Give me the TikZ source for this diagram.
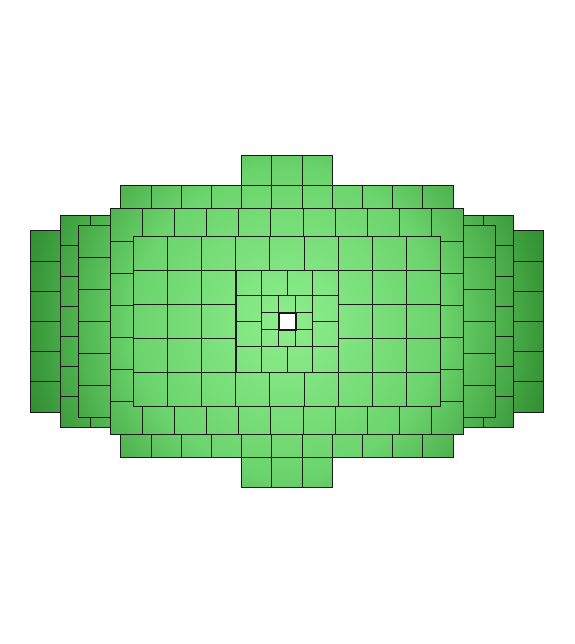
\documentclass[tikz,border=0pt]{standalone}
\usetikzlibrary{calc}
\definecolor{gcA}{RGB}{140,238,140}
\definecolor{gcB}{RGB}{108,212,108}
\definecolor{gcC}{RGB}{44,138,44}
\definecolor{edge}{RGB}{26,26,26}
\pgfdeclareradialshading{greenrad}{\pgfpoint{0bp}{0bp}}{%
  color(0bp)=(gcA); color(13.75bp)=(gcB); color(25bp)=(gcC); color(50bp)=(gcC)}
\tikzset{
  tileline/.style={draw=edge, line width=1pt},
  hole/.style={draw=edge, fill=white, line width=2pt},
}
% #1 cell width, #2 cell height, #3 columns, #4 rows
\newcommand\tilelayer[4]{%
  \pgfmathsetmacro\hw{#1*#3/2}%
  \pgfmathsetmacro\hh{#2*#4/2}%
  \pgfmathsetmacro\xo{287-\hw}%
  \pgfmathsetmacro\yo{322.5-\hh}%
  \begin{scope}
    \clip (\xo,\yo) rectangle ++(2*\hw,2*\hh);
    \shade[shading=greenrad] (287-280,322.5-280) rectangle (287+280,322.5+280);
  \end{scope}
  \foreach \i in {1,...,#3}{%
    \foreach \j in {1,...,#4}{%
      \draw[tileline] (\xo+\i*#1-#1,\yo+\j*#2-#2) rectangle ++(#1,#2);
    }%
  }%
}
\begin{document}
\begin{tikzpicture}[x=1pt,y=1pt]
\useasboundingbox (0,0) rectangle (574,644);
% back layers (30.2 cells)
\tilelayer{30.2}{30.2}{17}{6}
\tilelayer{30.2}{30.2}{15}{7}
\tilelayer{30.2}{30.2}{11}{9}
\tilelayer{30.2}{30.2}{3}{11}
% 32 cells
\tilelayer{32.15}{32.15}{13}{6}
\tilelayer{32.15}{32.15}{11}{7}
% 34 cells
\tilelayer{34.2}{34.1}{9}{5}
% inner
\tilelayer{25.5}{25.5}{4}{4}
\tilelayer{17}{17}{3}{3}
\draw[hole] (287-8.5,322.5-8.5) rectangle ++(17,17);
\end{tikzpicture}
\end{document}
